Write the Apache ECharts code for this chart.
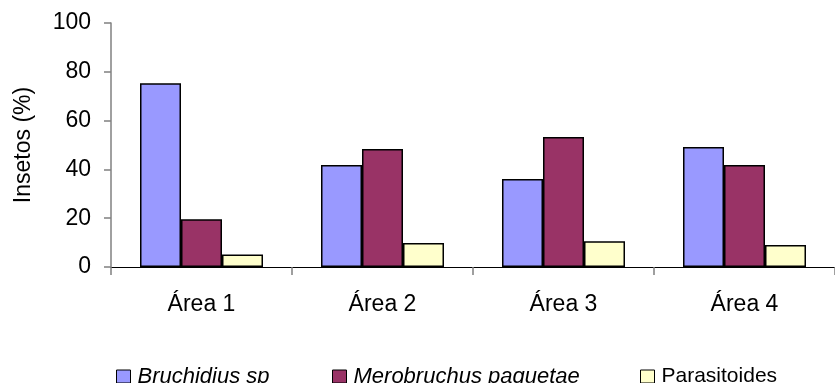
<!DOCTYPE html>
<html>
<head>
<meta charset="utf-8">
<style>
  html, body { margin: 0; padding: 0; background: #ffffff; }
  #chart { width: 835px; height: 383px; }
</style>
<script src="https://cdn.jsdelivr.net/npm/echarts@6/dist/echarts.min.js"></script>
</head>
<body>
<div id="chart"></div>
<script>
// Insect composition per sampled area (percent)
const areas = ['Área 1', 'Área 2', 'Área 3', 'Área 4'];
const bruchidius = [75.3, 41.8, 36.1, 49.2];
const merobruchus = [19.6, 48.4, 53.3, 41.8];
const parasitoides = [5.1, 9.8, 10.6, 9.0];
const yTicks = [0, 20, 40, 60, 80, 100];

const seriesNames = ['Bruchidius sp', 'Merobruchus paquetae', 'Parasitoides'];
const seriesColors = ['#9999FF', '#993366', '#FFFFCC'];
const seriesData = [bruchidius, merobruchus, parasitoides];

const FONT = '"Liberation Sans", Arial, sans-serif';

const chart = echarts.init(document.getElementById('chart'), null, { renderer: 'canvas' });

const legendLeft = [116, 332, 640];
const legendItalic = [true, true, false];
const legendFontSize = [22, 22, 21];

chart.setOption({
  animation: false,
  backgroundColor: '#ffffff',
  grid: { left: 111, top: 23, width: 732, bottom: 116, containLabel: false },
  legend: seriesNames.map((name, i) => ({
    data: [name],
    left: legendLeft[i],
    top: 363,
    padding: 0,
    itemWidth: 14,
    itemHeight: 13,
    itemGap: 0,
    icon: 'rect',
    itemStyle: { borderColor: '#000', borderWidth: 1 },
    textStyle: {
      fontFamily: FONT,
      fontSize: legendFontSize[i],
      lineHeight: 24,
      fontStyle: legendItalic[i] ? 'italic' : 'normal',
      color: '#000',
      padding: [3, 0, 0, 2]
    }
  })),
  xAxis: {
    type: 'category',
    data: areas,
    boundaryGap: true,
    axisLine: { show: true, lineStyle: { color: '#000', width: 1 } },
    axisTick: { show: true, length: 8, alignWithLabel: false, lineStyle: { color: '#808080', width: 1.5 } },
    axisLabel: { margin: 26, fontFamily: FONT, fontSize: 23, color: '#000' },
    splitLine: { show: false }
  },
  yAxis: {
    type: 'value',
    min: yTicks[0],
    max: yTicks[yTicks.length - 1],
    interval: yTicks[1] - yTicks[0],
    name: 'Insetos (%)',
    nameLocation: 'middle',
    nameRotate: 90,
    nameGap: 76,
    nameTextStyle: { fontFamily: FONT, fontSize: 23, color: '#000' },
    axisLine: { show: true, lineStyle: { color: '#808080', width: 1.5 } },
    axisTick: { show: true, length: 7, lineStyle: { color: '#808080', width: 1.5 } },
    axisLabel: { margin: 20, fontFamily: FONT, fontSize: 23, color: '#000' },
    splitLine: { show: false }
  },
  series: seriesNames.map((name, i) => ({
    name: name,
    type: 'bar',
    data: seriesData[i],
    barWidth: 41,
    barGap: '0%',
    itemStyle: { color: seriesColors[i], borderColor: '#000', borderWidth: 1.5 }
  }))
});
</script>
</body>
</html>
